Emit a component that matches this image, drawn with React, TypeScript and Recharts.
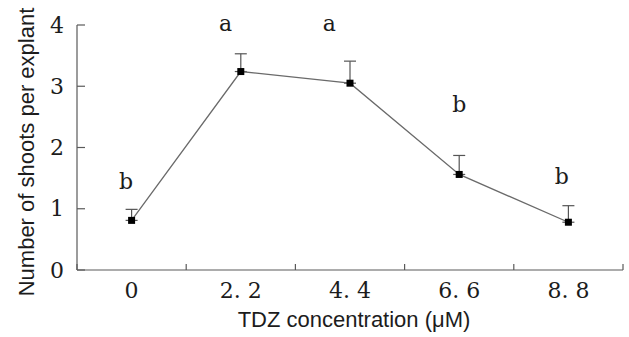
import { ComposedChart, Line, XAxis, YAxis, ErrorBar, ReferenceDot, Label } from "recharts";

const CONCENTRATIONS = ["0", "2. 2", "4. 4", "6. 6", "8. 8"];
const SHOOTS = [0.81, 3.24, 3.05, 1.56, 0.78];
const SE = [0.18, 0.29, 0.36, 0.31, 0.27];
const LETTERS = ["b", "a", "a", "b", "b"];
const LETTER_Y = [1.45, 4.03, 4.03, 2.7, 1.53];
const LETTER_SHIFT = [-0.05, -0.14, -0.19, 0, -0.06];
const Y_TICKS = [0, 1, 2, 3, 4];
const X_TICKS = [-0.5, 0, 0.5, 1, 1.5, 2, 2.5, 3, 3.5, 4, 4.5];

const AXIS = "#5a5a5a";
const INK = "#1c1c1c";
const SERIF = "DejaVu Serif, serif";
const SANS = "Liberation Sans, Arial, sans-serif";

const data = CONCENTRATIONS.map((c, i) => ({ idx: i, label: c, shoots: SHOOTS[i], err: [0, SE[i]] }));

const YTick = ({ x, y, payload }: any) => (
  <g>
    <line x1={x} y1={y} x2={x + 8} y2={y} stroke={AXIS} strokeWidth={1.2} />
    <text x={x - 13} y={y} textAnchor="end" dominantBaseline="central" fontFamily={SERIF} fontSize={22} fill={INK}>
      {payload.value}
    </text>
  </g>
);

const XTick = ({ x, y, payload }: any) => {
  const v = payload.value;
  if (!Number.isInteger(v)) {
    return <line x1={x} y1={y} x2={x} y2={y - 6} stroke={AXIS} strokeWidth={1.2} />;
  }
  return (
    <text x={x} y={y + 20} textAnchor="middle" dominantBaseline="central" fontFamily={SERIF} fontSize={22} fill={INK}>
      {CONCENTRATIONS[v]}
    </text>
  );
};

// square marker, wide enough to cover the (unused) lower error cap
const SquareDot = ({ cx, cy, index }: any) => (
  <rect key={index} x={cx - 3.5} y={cy - 3.5} width={7} height={7} fill="#000" />
);

export default function App() {
  return (
    <div style={{ position: "absolute", left: 0, top: 0, background: "#fff" }}>
      <ComposedChart width={629} height={337} data={data} margin={{ top: 25, right: 6, left: 0, bottom: 0 }}>
        <XAxis
          dataKey="idx"
          type="number"
          domain={[-0.5, 4.5]}
          ticks={X_TICKS}
          interval={0}
          tick={<XTick />}
          tickLine={false}
          tickSize={0}
          tickMargin={0}
          height={67}
          stroke={AXIS}
          strokeWidth={1.2}
        >
          <Label
            content={() => (
              <text x={354} y={327} textAnchor="middle" fontFamily={SANS} fontSize={22} fill={INK}>
                TDZ concentration (μM)
              </text>
            )}
          />
        </XAxis>
        <YAxis
          type="number"
          domain={[0, 4]}
          ticks={Y_TICKS}
          interval={0}
          tick={<YTick />}
          tickLine={false}
          tickSize={0}
          tickMargin={0}
          width={77}
          stroke={AXIS}
          strokeWidth={1.2}
        >
          <Label
            content={() => (
              <text
                x={34}
                y={152}
                transform="rotate(-90 34 152)"
                textAnchor="middle"
                fontFamily={SANS}
                fontSize={22}
                fill={INK}
              >
                Number of shoots per explant
              </text>
            )}
          />
        </YAxis>
        <Line
          type="linear"
          dataKey="shoots"
          stroke="#6a6a6a"
          strokeWidth={1.3}
          dot={<SquareDot />}
          activeDot={false}
          isAnimationActive={false}
        >
          <ErrorBar dataKey="err" width={6} stroke="#555" strokeWidth={1.2} direction="y" isAnimationActive={false} />
        </Line>
        {LETTERS.map((l, i) => (
          <ReferenceDot
            key={i}
            x={i + LETTER_SHIFT[i]}
            y={LETTER_Y[i]}
            r={0}
            ifOverflow="visible"
            shape={(p: any) => (
              <text x={p.cx} y={p.cy} textAnchor="middle" dominantBaseline="central" fontFamily={SERIF} fontSize={22} fill={INK}>
                {l}
              </text>
            )}
          />
        ))}
      </ComposedChart>
    </div>
  );
}
